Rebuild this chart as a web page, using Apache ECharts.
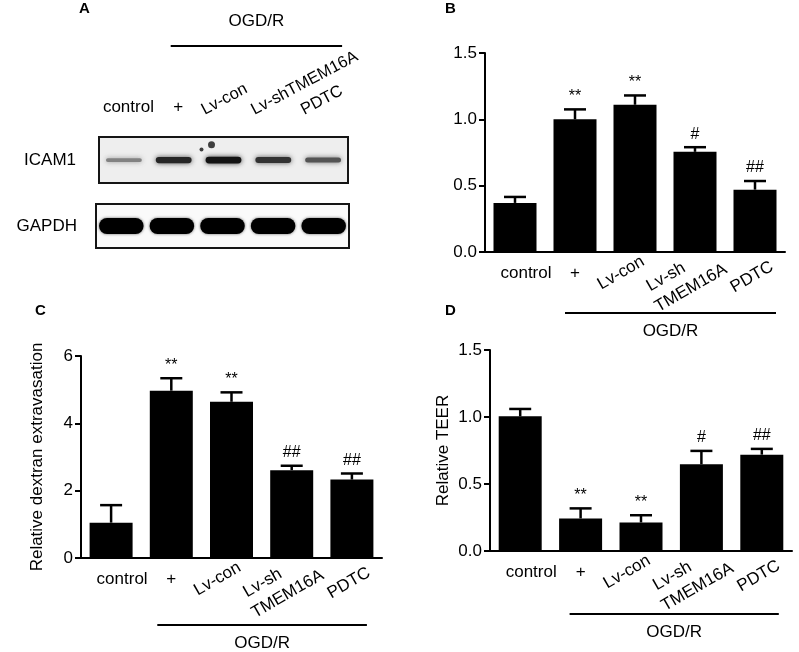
<!DOCTYPE html>
<html><head><meta charset="utf-8">
<script src="https://cdn.jsdelivr.net/npm/echarts@6/dist/echarts.min.js"></script>
<style>html,body{margin:0;padding:0;background:#fff}#c{width:799px;height:652px}</style>
</head><body><div id="c"></div>
<script>
// ---------- data ----------
const categories = ['control', '+', 'Lv-con', 'Lv-sh\nTMEM16A', 'PDTC'];
const blotLanes = ['control', '+', 'Lv-con', 'Lv-shTMEM16A', 'PDTC'];
const blotRows = ['ICAM1', 'GAPDH'];
const icam1Band = [0.35, 0.85, 0.95, 0.78, 0.6];     // band darkness
const gapdhBand = [1, 1, 1, 1, 1];
const icam1Spots = [[2, 0.83], [2, 0.73]];            // lane, height in box
const icam1Mean = [0.37, 1.00, 1.11, 0.755, 0.47];
const icam1Err  = [0.045, 0.075, 0.07, 0.035, 0.065];
const icam1Sig  = ['', '**', '**', '#', '##'];
const dextranMean = [1.05, 4.97, 4.64, 2.61, 2.33];
const dextranErr  = [0.52, 0.37, 0.28, 0.13, 0.18];
const dextranSig  = ['', '**', '**', '##', '##'];
const teerMean = [1.005, 0.243, 0.213, 0.647, 0.719];
const teerErr  = [0.055, 0.075, 0.054, 0.10, 0.043];
const teerSig  = ['', '**', '**', '#', '##'];
const ticksB = [0, 0.5, 1.0, 1.5];
const ticksC = [0, 2, 4, 6];
const ticksD = [0, 0.5, 1.0, 1.5];
const groupLabel = 'OGD/R';

// ---------- helpers ----------
const FF = 'Liberation Sans, Arial, sans-serif';
const chart = echarts.init(document.getElementById('c'), null, {renderer: 'canvas'});

function bandRender(kind) {
  return function (params, api) {
    const v = api.value(1);
    const c = api.coord([api.value(0), 0.5]);
    const lane = api.size([1, 0])[0];
    if (kind === 'icam') {
      const w = lane * 0.72, h = 2 + 5 * v;
      const g = Math.round(195 - 185 * v);
      return {type: 'rect', shape: {x: c[0] - w / 2, y: c[1] - h / 2, width: w, height: h, r: h / 2},
        style: {fill: 'rgb(' + g + ',' + g + ',' + g + ')', shadowBlur: 5, shadowColor: 'rgba(' + g + ',' + g + ',' + g + ',0.8)'}};
    }
    const w = lane * 0.88, h = 16;
    const g = Math.round(20 - 20 * v);
    return {type: 'rect', shape: {x: c[0] - w / 2, y: c[1] - h / 2, width: w, height: h, r: 8},
      style: {fill: 'rgb(' + g + ',' + g + ',' + g + ')', shadowBlur: 3, shadowColor: 'rgba(0,0,0,0.6)'}};
  };
}

function errRender(sig) {
  return function (params, api) {
    const i = api.value(0);
    const pTop = api.coord([i, api.value(1)]);
    const pMean = api.coord([i, api.value(2)]);
    const half = 11;
    const ls = {stroke: '#000', lineWidth: 2.5};
    return {type: 'group', children: [
      {type: 'line', shape: {x1: pTop[0], y1: pMean[1], x2: pTop[0], y2: pTop[1]}, style: ls},
      {type: 'line', shape: {x1: pTop[0] - half, y1: pTop[1], x2: pTop[0] + half, y2: pTop[1]}, style: ls},
      {type: 'text', style: {text: sig[params.dataIndex], x: pTop[0], y: pTop[1] - 5, align: 'center',
        verticalAlign: 'bottom', fill: '#000', font: '16px ' + FF}}
    ]};
  };
}

function mainX(grid) {
  return {type: 'category', gridIndex: grid, data: categories.map((c, i) => i === 0 ? {value: c, textStyle: {padding: [0, 0, 0, 22]}} : c),
    boundaryGap: true,
    axisLine: {lineStyle: {color: '#000', width: 2}},
    axisTick: {alignWithLabel: true, length: 6, lineStyle: {color: '#000', width: 2}},
    axisLabel: {formatter: (v, i) => i < 2 ? v : '', color: '#000', fontSize: 17, fontFamily: FF, margin: 13, interval: 0}};
}
function mainY(grid, ticks, name, gap) {
  return {type: 'value', gridIndex: grid, min: ticks[0], max: ticks[ticks.length - 1], interval: ticks[1] - ticks[0],
    name: name, nameLocation: 'middle', nameGap: gap, nameTextStyle: {color: '#000', fontSize: 17, fontFamily: FF},
    axisLine: {show: true, lineStyle: {color: '#000', width: 2}},
    axisTick: {show: true, length: 6, lineStyle: {color: '#000', width: 2}},
    splitLine: {show: false},
    axisLabel: {color: '#000', fontSize: 17, fontFamily: FF, margin: 8,
      formatter: v => (ticks[1] - ticks[0]) < 1 ? v.toFixed(1) : String(v)}};
}
function errData(mean, err) { return mean.map((m, i) => [i, m + err[i], m]); }

const option = {
  animation: false,
  backgroundColor: '#fff',
  title: [
    {text: 'A', left: 79, top: 1, padding: 0, textStyle: {fontSize: 15, fontWeight: 'bold', fontFamily: FF, color: '#000'}},
    {text: 'B', left: 445, top: 1, padding: 0, textStyle: {fontSize: 15, fontWeight: 'bold', fontFamily: FF, color: '#000'}},
    {text: 'C', left: 35, top: 303, padding: 0, textStyle: {fontSize: 15, fontWeight: 'bold', fontFamily: FF, color: '#000'}},
    {text: 'D', left: 445, top: 303, padding: 0, textStyle: {fontSize: 15, fontWeight: 'bold', fontFamily: FF, color: '#000'}}
  ],
  grid: [
    {left: 99, top: 137, width: 249, height: 46, show: true, borderWidth: 2, borderColor: '#151515', backgroundColor: '#eeeeee'},
    {left: 96, top: 204, width: 253, height: 44, show: true, borderWidth: 2, borderColor: '#151515', backgroundColor: '#fafafa'},
    {left: 78, top: 139, width: 249, height: 46},
    {left: 485, top: 53, width: 300, height: 199},
    {left: 81, top: 356, width: 301, height: 202},
    {left: 490, top: 350, width: 302, height: 201}
  ],
  xAxis: [
    {type: 'category', gridIndex: 0, data: blotLanes, position: 'top', axisLine: {show: false}, axisTick: {show: false},
      axisLabel: {formatter: (v, i) => i < 2 ? v : '', interval: 0, margin: 21, padding: [0, 0, 0, 9], color: '#000', fontSize: 17, fontFamily: FF}},
    {type: 'category', gridIndex: 1, data: blotLanes, show: false},
    {type: 'category', gridIndex: 2, data: blotLanes, position: 'top', axisLine: {show: false}, axisTick: {show: false},
      axisLabel: {formatter: (v, i) => i < 2 ? '' : v, rotate: 28, interval: 0, margin: 28, color: '#000', fontSize: 16.5, fontFamily: FF}},
    mainX(3), mainX(4), mainX(5)
  ],
  yAxis: [
    {type: 'value', gridIndex: 0, min: 0, max: 1, name: blotRows[0], nameLocation: 'middle', nameRotate: 0, nameGap: 23,
      nameTextStyle: {color: '#000', fontSize: 17, fontFamily: FF},
      axisLine: {show: false}, axisTick: {show: false}, axisLabel: {show: false}, splitLine: {show: false}},
    {type: 'value', gridIndex: 1, min: 0, max: 1, name: blotRows[1], nameLocation: 'middle', nameRotate: 0, nameGap: 19,
      nameTextStyle: {color: '#000', fontSize: 17, fontFamily: FF},
      axisLine: {show: false}, axisTick: {show: false}, axisLabel: {show: false}, splitLine: {show: false}},
    {type: 'value', gridIndex: 2, show: false},
    mainY(3, ticksB, '', 0),
    mainY(4, ticksC, 'Relative dextran extravasation', 35),
    mainY(5, ticksD, 'Relative TEER', 38)
  ],
  series: [
    {type: 'custom', xAxisIndex: 0, yAxisIndex: 0, renderItem: bandRender('icam'), data: icam1Band.map((v, i) => [i, v])},
    {type: 'scatter', xAxisIndex: 0, yAxisIndex: 0, data: [
      {value: icam1Spots[0], symbolSize: 7, symbolOffset: [-12, 0]},
      {value: icam1Spots[1], symbolSize: 4, symbolOffset: [-22, 0]}], itemStyle: {color: '#111'}},
    {type: 'custom', xAxisIndex: 1, yAxisIndex: 1, renderItem: bandRender('gapdh'), data: gapdhBand.map((v, i) => [i, v])},
    {type: 'bar', xAxisIndex: 3, yAxisIndex: 3, data: icam1Mean, barWidth: 43, itemStyle: {color: '#000'}},
    {type: 'custom', xAxisIndex: 3, yAxisIndex: 3, renderItem: errRender(icam1Sig), data: errData(icam1Mean, icam1Err), z: 3},
    {type: 'bar', xAxisIndex: 4, yAxisIndex: 4, data: dextranMean, barWidth: 43, itemStyle: {color: '#000'}},
    {type: 'custom', xAxisIndex: 4, yAxisIndex: 4, renderItem: errRender(dextranSig), data: errData(dextranMean, dextranErr), z: 3},
    {type: 'bar', xAxisIndex: 5, yAxisIndex: 5, data: teerMean, barWidth: 43, itemStyle: {color: '#000'}},
    {type: 'custom', xAxisIndex: 5, yAxisIndex: 5, renderItem: errRender(teerSig), data: errData(teerMean, teerErr), z: 3}
  ]
};
chart.setOption(option);

// rotated category labels, anchored on the category scale (offsets per line, px)
const rotOffsets = {2: [[-14, 21]], 3: [[-29, 25], [-4, 36]], 4: [[-3, 25]]};
function rotLabels(xIdx, yIdx, yMin) {
  const y0 = chart.convertToPixel({yAxisIndex: yIdx}, yMin);
  const out = [];
  [2, 3, 4].forEach(i => {
    const x0 = chart.convertToPixel({xAxisIndex: xIdx}, categories[i]);
    categories[i].split('\n').forEach((t, k) => {
      const off = rotOffsets[i][k];
      out.push({type: 'text', x: x0 + off[0], y: y0 + off[1], rotation: Math.PI / 6,
        style: {text: t, align: 'center', verticalAlign: 'middle', fill: '#000', font: '17px ' + FF}});
    });
  });
  return out;
}
// group brackets (OGD/R) placed from the category scale
function bracket(xAxisIndex, startCat, endCat, dl, dr, yLine, yText) {
  const x1 = chart.convertToPixel({xAxisIndex: xAxisIndex}, startCat) - dl;
  const x2 = chart.convertToPixel({xAxisIndex: xAxisIndex}, endCat) + dr;
  return [
    {type: 'line', shape: {x1: x1, y1: yLine, x2: x2, y2: yLine}, style: {stroke: '#000', lineWidth: 2}},
    {type: 'text', x: (x1 + x2) / 2, y: yText, style: {text: groupLabel, align: 'center', verticalAlign: 'middle', fill: '#000', font: '17px ' + FF}}
  ];
}
const g = [].concat(
  rotLabels(3, 3, ticksB[0]),
  rotLabels(4, 4, ticksC[0]),
  rotLabels(5, 5, ticksD[0]),
  bracket(0, blotLanes[1], blotLanes[4], 3, 19, 46, 21),
  bracket(3, categories[1], categories[4], 10, 21, 313, 331),
  bracket(4, categories[1], categories[4], 14, 15, 625, 643),
  bracket(5, categories[1], categories[4], 11, 17, 614, 632)
);
chart.setOption({graphic: g});
</script>
</body></html>
